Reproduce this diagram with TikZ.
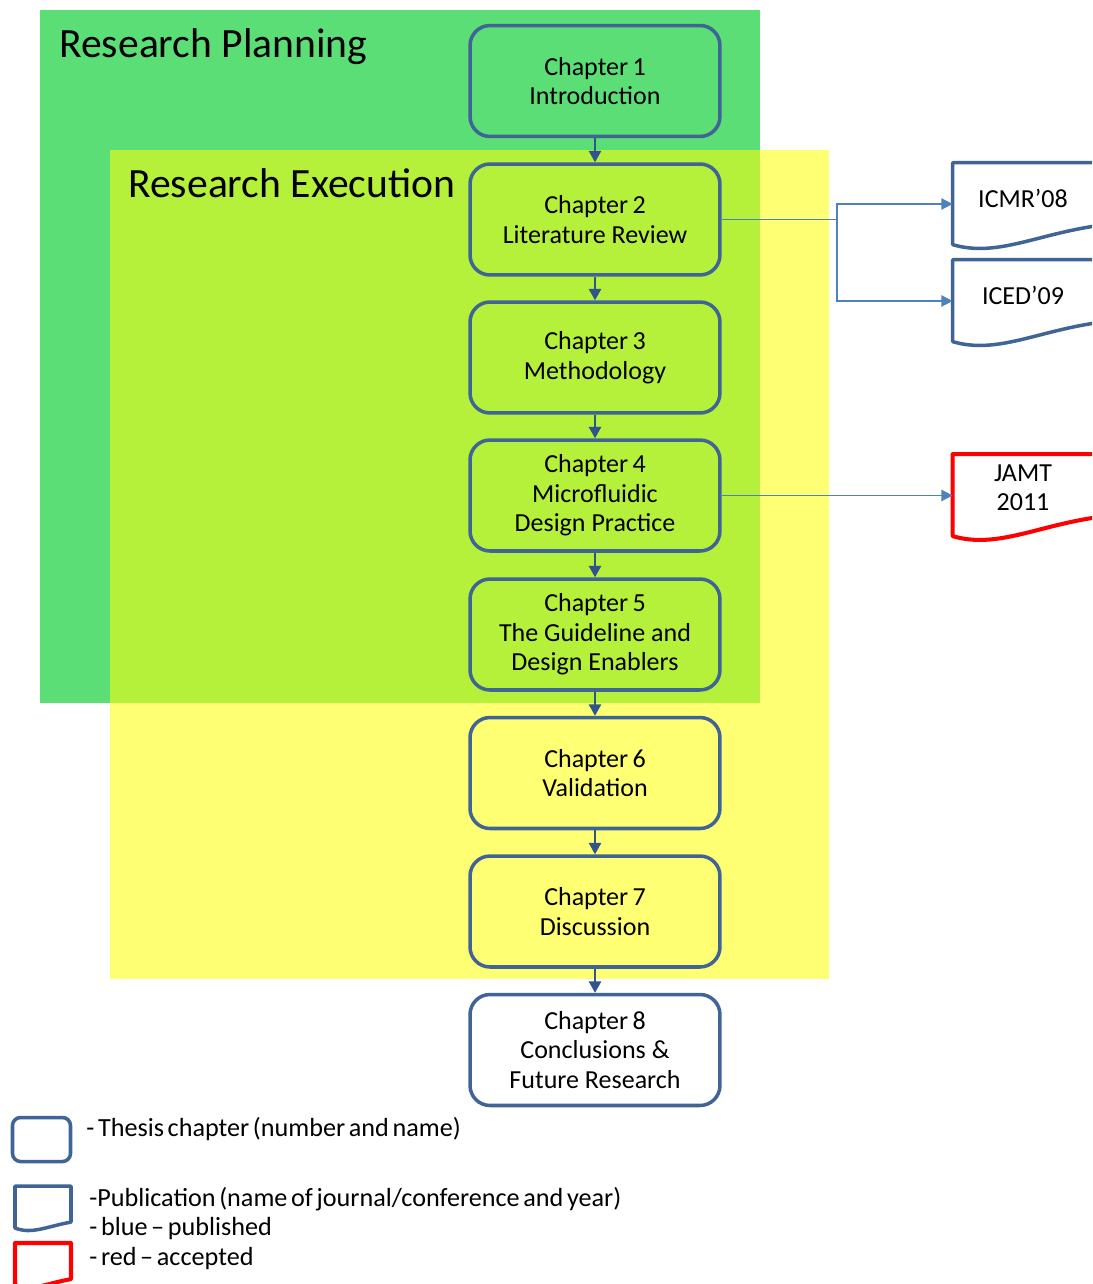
\documentclass[tikz,border=0pt]{standalone}
\usepackage{fontspec}
\setmainfont{Carlito}
\usetikzlibrary{arrows.meta,calc}

\definecolor{planGreen}{RGB}{92,222,119}
\definecolor{execYellow}{RGB}{255,255,115}
\definecolor{overlapLime}{RGB}{181,240,58}
\definecolor{chapBlue}{RGB}{65,100,150}
\definecolor{flowBlue}{RGB}{47,85,140}
\definecolor{linkBlue}{RGB}{79,129,189}
\definecolor{acceptRed}{RGB}{255,0,0}

% document shape: style, top-left corner, width, height, right-edge height ratio
\newcommand\docshape[5]{%
  \draw[#1] #2 -- ($#2+(#3,0)$) -- ($#2+(#3,#5*#4)$)
    .. controls ($#2+(0.57*#3,#5*#4+0.1*#4)$) and ($#2+(0.3*#3,1.16*#4)$)
    .. ($#2+(0,#4)$) -- cycle;}
% narrow word spacing for the legend lines
\newcommand\tightwords{\spaceskip=0.14em plus 0.05em\relax}

\begin{document}
\begin{tikzpicture}[x=0.02cm,y=-0.02cm,
  chapbox/.style={draw=chapBlue, line width=2pt, rounded corners=0.4cm,
    minimum width=5cm, minimum height=2.22cm, align=center,
    font=\fontsize{14.8}{16.8}\selectfont, inner sep=0pt},
  pubbox/.style={minimum width=2.8cm, minimum height=1.64cm, inner sep=0pt},
  pubtext/.style={align=center, inner sep=0pt, yshift=3pt,
    font=\fontsize{14.8}{16.4}\selectfont},
  pubblue/.style={draw=chapBlue, line width=2pt, fill=white, line join=round},
  pubred/.style={draw=acceptRed, line width=2.3pt, fill=white, line join=round},
  flow/.style={draw=flowBlue, line width=1.1pt,
    -{Triangle[length=6.5pt,width=7pt]}},
  link/.style={draw=linkBlue, line width=0.85pt,
    -{Triangle[length=6.5pt,width=6.5pt]}},
  title/.style={anchor=base west, font=\fontsize{23.7}{28}\selectfont, inner sep=0pt},
  legtext/.style={anchor=base west, inner sep=0pt,
    font=\fontsize{14.9}{16.8}\selectfont}
]
\useasboundingbox (0,0) rectangle (1092,1284);
\clip (0,0) rectangle (1092,1284);
\fill[white] (0,0) rectangle (1092,1284);

% phase backgrounds
\fill[planGreen] (40,10) rectangle (760,703);
\fill[execYellow] (110,150) rectangle (829,979);
\fill[overlapLime] (110,150) rectangle (760,703);

\node[title] (plan) at (59,58) {Research Planning};
\node[title] (exec) at (128,197) {Research Execution};

% thesis chapters
\node[chapbox] (c1) at (595,81) {Chapter\,1\\Introduction};
\node[chapbox] (c2) at (595,219.5) {Chapter\,2\\Literature Review};
\node[chapbox] (c3) at (595,357.5) {Chapter\,3\\Methodology};
\node[chapbox] (c4) at (595,495.5) {Chapter\,4\\Microfluidic\\Design Practice};
\node[chapbox] (c5) at (595,634.5) {Chapter\,5\\The Guideline and\\Design Enablers};
\node[chapbox] (c6) at (595,773) {Chapter\,6\\Validation};
\node[chapbox] (c7) at (595,911.5) {Chapter\,7\\Discussion};
\node[chapbox, fill=white] (c8) at (595,1050) {Chapter\,8\\Conclusions \&\\Future Research};

\foreach \a/\b in {c1/c2,c2/c3,c3/c4,c4/c5,c5/c6,c6/c7,c7/c8}
  \draw[flow] (\a.south) -- (\b.north);

% publications
\node[pubbox] (icmr) at (1023,204) {};
\node[pubbox] (iced) at (1023,301) {};
\node[pubbox] (jamt) at (1023,495.5) {};
\docshape{pubblue}{(icmr.north west)}{150}{82}{0.76}
\docshape{pubblue}{(iced.north west)}{150}{82}{0.76}
\docshape{pubred}{(jamt.north west)}{150}{82}{0.76}
\node[pubtext] (icmrtext) at (icmr) {ICMR’08};
\node[pubtext] (icedtext) at (iced) {ICED’09};
\node[pubtext, yshift=1.2pt] (jamttext) at (jamt) {JAMT\\2011};

\coordinate (split) at (837,219.5);
\draw[link] (c2.east) -- (split) |- (icmr.west);
\draw[link] (split) |- (iced.west);
\draw[link] (c4.east) -- (jamt.west);

% legend
\node[draw=chapBlue, line width=2pt, rounded corners=0.16cm,
  minimum width=1.16cm, minimum height=0.88cm] (legchap) at (41.5,1139.5) {};
\coordinate (legpub) at (15,1186);
\coordinate (legacc) at (15,1243);
\docshape{pubblue}{(legpub)}{56}{42}{0.86}
\docshape{pubred}{(legacc)}{56}{42}{0.86}
\node[legtext] (lt1) at (86,1136) {\tightwords - Thesis chapter (number and name)};
\node[legtext] (lt2) at (89,1206) {\tightwords -Publication (name of journal/conference and year)};
\node[legtext] (lt3) at (89,1235) {\tightwords - blue – published};
\node[legtext] (lt4) at (89,1265) {\tightwords - red – accepted};
\end{tikzpicture}
\end{document}
